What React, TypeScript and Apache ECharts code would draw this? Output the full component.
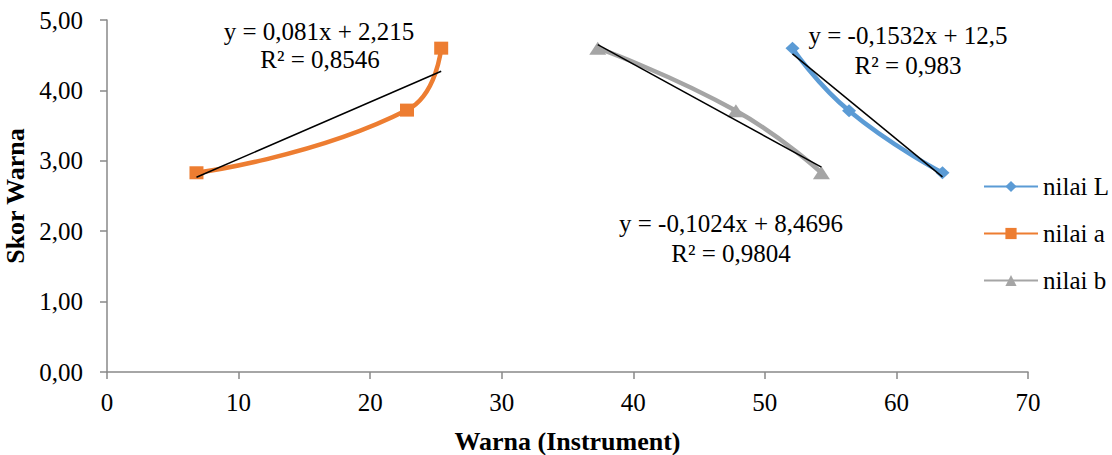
import React, { useEffect, useRef } from "react";
import * as echarts from "echarts";

const seriesNames = ["nilai L", "nilai a", "nilai b"];
const colors = ["#5B9BD5", "#ED7D31", "#A5A5A5"];
const symbols = ["diamond", "rect", "triangle"];

const xL = [52.1, 56.4, 63.5];
const yL = [4.6, 3.71, 2.83];
const xA = [6.8, 22.8, 25.4];
const yA = [2.83, 3.72, 4.6];
const xB = [37.3, 47.8, 54.3];
const yB = [4.6, 3.71, 2.83];

const slopes = [-0.1532, 0.081, -0.1024];
const intercepts = [12.5, 2.215, 8.4696];
const equations = ["y = -0,1532x + 12,5", "y = 0,081x + 2,215", "y = -0,1024x + 8,4696"];
const rSquared = ["R² = 0,983", "R² = 0,8546", "R² = 0,9804"];

const xTicks = [0, 10, 20, 30, 40, 50, 60, 70];
const yTicks = [0, 1, 2, 3, 4, 5];

const FONT = "Liberation Serif";

export default function App() {
  const ref = useRef<HTMLDivElement>(null);
  useEffect(() => {
    if (!ref.current) return;
    const chart = echarts.init(ref.current, undefined, { renderer: "svg" });
    const xs = [xL, xA, xB];
    const ys = [yL, yA, yB];
    const sizes: any[] = [[14, 13], [14, 13], [17, 13]];

    const dataSeries = seriesNames.map((name, i) => ({
      name,
      type: "line",
      smooth: 0.5,
      data: xs[i].map((x, j) => [x, ys[i][j]]),
      symbol: symbols[i],
      symbolSize: sizes[i],
      showSymbol: true,
      itemStyle: { color: colors[i] },
      lineStyle: { color: colors[i], width: 4.5 },
      z: 2,
    }));

    const trendSeries = seriesNames.map((name, i) => {
      const mn = Math.min(...xs[i]);
      const mx = Math.max(...xs[i]);
      return {
        name: "trend " + name,
        type: "line",
        data: [
          [mn, slopes[i] * mn + intercepts[i]],
          [mx, slopes[i] * mx + intercepts[i]],
        ],
        symbol: "none",
        lineStyle: { color: "#000000", width: 1.5 },
        z: 3,
        silent: true,
      };
    });

    const eqPos = [
      [908, 35, 908, 65],
      [319, 31, 320, 59],
      [731, 223, 731, 253],
    ];
    const graphics: any[] = [];
    eqPos.forEach((p, i) => {
      [equations[i], rSquared[i]].forEach((t, k) => {
        graphics.push({
          type: "text",
          x: p[k * 2],
          y: p[k * 2 + 1],
          z: 10,
          style: {
            text: t,
            fontFamily: FONT,
            fontSize: 25,
            fill: "#000",
            align: "center",
            verticalAlign: "middle",
          },
        });
      });
    });

    const axisColor = "#898989";
    const nameStyle = { fontFamily: FONT, fontSize: 26, fontWeight: "bold", color: "#000" };
    const labelStyle = { fontFamily: FONT, fontSize: 25, color: "#000" };
    chart.setOption({
      animation: false,
      textStyle: { fontFamily: FONT },
      grid: { left: 107, right: 84, top: 20, bottom: 83, containLabel: false, outerBoundsMode: "none" },
      xAxis: {
        type: "value",
        min: xTicks[0],
        max: xTicks[xTicks.length - 1],
        interval: 10,
        name: "Warna (Instrument)",
        nameLocation: "middle",
        nameGap: 56,
        nameTextStyle: nameStyle,
        axisLine: { lineStyle: { color: axisColor, width: 1.5 } },
        axisTick: { show: true, length: 7, lineStyle: { color: axisColor, width: 1.5 } },
        axisLabel: { ...labelStyle, margin: 18 },
        splitLine: { show: false },
      },
      yAxis: {
        type: "value",
        min: yTicks[0],
        max: yTicks[yTicks.length - 1],
        interval: 1,
        name: "Skor Warna",
        nameLocation: "middle",
        nameGap: 71,
        nameRotate: 90,
        nameTextStyle: nameStyle,
        axisLine: { show: true, lineStyle: { color: axisColor, width: 1.5 } },
        axisTick: { show: true, length: 7, lineStyle: { color: axisColor, width: 1.5 } },
        axisLabel: {
          ...labelStyle,
          margin: 24,
          formatter: (v: number) => v.toFixed(2).replace(".", ","),
        },
        splitLine: { show: false },
      },
      legend: {
        data: seriesNames,
        orient: "vertical",
        left: 978,
        top: 169,
        itemWidth: 54,
        itemHeight: 14,
        itemGap: 22,
        selectedMode: false,
        textStyle: { ...labelStyle, lineHeight: 25 },
      },
      series: [...dataSeries, ...trendSeries],
      graphic: graphics,
    });
    return () => chart.dispose();
  }, []);
  return (
    <div
      ref={ref}
      style={{ position: "fixed", left: 0, top: 0, width: 1112, height: 455, background: "#fff" }}
    />
  );
}
